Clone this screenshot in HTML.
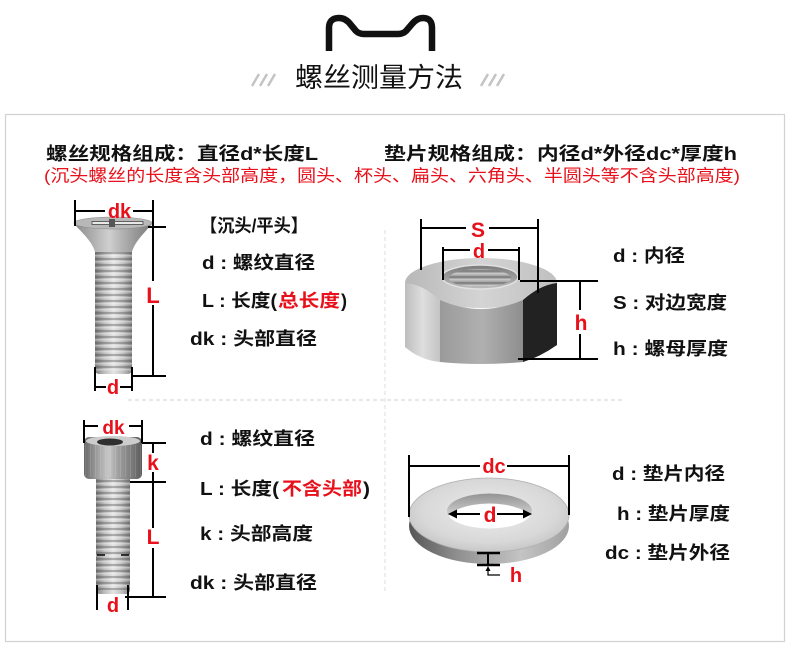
<!DOCTYPE html>
<html><head><meta charset="utf-8">
<style>
html,body{margin:0;padding:0;background:#fff;}
svg{display:block;}
text{font-family:"Liberation Sans","Noto Sans CJK SC",sans-serif;}
.b{font-weight:bold;fill:#111;}
.r{font-weight:bold;fill:#e8101a;}
</style></head><body>
<svg width="790" height="666" viewBox="0 0 790 666" xmlns="http://www.w3.org/2000/svg">
<defs>
 <linearGradient id="shank" x1="0" x2="1" y1="0" y2="0">
  <stop offset="0" stop-color="#7d7d7d"/>
  <stop offset="0.25" stop-color="#bdbdbd"/>
  <stop offset="0.5" stop-color="#e4e4e4"/>
  <stop offset="0.75" stop-color="#c2c2c2"/>
  <stop offset="1" stop-color="#858585"/>
 </linearGradient>
 <linearGradient id="cone" x1="0" x2="1" y1="0" y2="0">
  <stop offset="0" stop-color="#8a8a8a"/>
  <stop offset="0.45" stop-color="#cfcfcf"/>
  <stop offset="0.7" stop-color="#a5a5a5"/>
  <stop offset="1" stop-color="#7a7a7a"/>
 </linearGradient>
 <linearGradient id="head2" x1="0" x2="1" y1="0" y2="0">
  <stop offset="0" stop-color="#666"/>
  <stop offset="0.2" stop-color="#999"/>
  <stop offset="0.42" stop-color="#c6c6c6"/>
  <stop offset="0.6" stop-color="#9e9e9e"/>
  <stop offset="0.85" stop-color="#777"/>
  <stop offset="1" stop-color="#5a5a5a"/>
 </linearGradient>
 <pattern id="thr" patternUnits="userSpaceOnUse" width="60" height="6">
  <rect width="60" height="2" fill="#444" fill-opacity="0.35"/>
  <rect y="3" width="60" height="1.5" fill="#fff" fill-opacity="0.35"/>
 </pattern>
 <pattern id="knurl" patternUnits="userSpaceOnUse" width="5" height="60">
  <rect width="1" height="60" fill="#fff" fill-opacity="0.12"/>
 </pattern>
 <linearGradient id="nl" x1="0" x2="1" y1="0" y2="0">
  <stop offset="0" stop-color="#bdbdbd"/>
  <stop offset="0.5" stop-color="#dedede"/>
  <stop offset="1" stop-color="#c4c4c4"/>
 </linearGradient>
 <linearGradient id="nf" x1="0" x2="1" y1="0" y2="0">
  <stop offset="0" stop-color="#9a9a9a"/>
  <stop offset="0.5" stop-color="#b0b0b0"/>
  <stop offset="1" stop-color="#8e8e8e"/>
 </linearGradient>
 <linearGradient id="nt" x1="0" x2="1" y1="0" y2="0">
  <stop offset="0" stop-color="#b8b8b8"/>
  <stop offset="0.5" stop-color="#d4d4d4"/>
  <stop offset="1" stop-color="#c0c0c0"/>
 </linearGradient>
 <linearGradient id="hole" x1="0" x2="0" y1="0" y2="1">
  <stop offset="0" stop-color="#7a7a7a"/>
  <stop offset="1" stop-color="#bcbcbc"/>
 </linearGradient>
 <linearGradient id="wside" x1="0" x2="1" y1="0" y2="0">
  <stop offset="0" stop-color="#555"/>
  <stop offset="0.3" stop-color="#8f8f8f"/>
  <stop offset="0.7" stop-color="#c4c4c4"/>
  <stop offset="1" stop-color="#a0a0a0"/>
 </linearGradient>
 <radialGradient id="wtop" cx="0.5" cy="0.45" r="0.6">
  <stop offset="0" stop-color="#ececec"/>
  <stop offset="0.7" stop-color="#d8d8d8"/>
  <stop offset="1" stop-color="#c2c2c2"/>
 </radialGradient>
 <linearGradient id="wall" x1="0" x2="0" y1="0" y2="1">
  <stop offset="0" stop-color="#8a8a8a"/>
  <stop offset="0.5" stop-color="#cfcfcf"/>
  <stop offset="1" stop-color="#eee"/>
 </linearGradient>
 <clipPath id="hc"><ellipse cx="489.5" cy="511" rx="42.5" ry="17.5"/></clipPath>
 <clipPath id="nh"><ellipse cx="480" cy="278" rx="31" ry="9"/></clipPath>
</defs>

<!-- logo -->
<path d="M329,51 V28 Q329,18 339,18 Q346,18 351,25 L356,31 Q359,34 364,34 L398,34 Q403,34 406,31 L412,24 Q417,18 423,18 Q432,18 432,28 V51" fill="none" stroke="#111" stroke-width="6.5"/>
<g stroke="#c4c4c4" stroke-width="2.5">
 <line x1="252" y1="86" x2="259" y2="74"/><line x1="260" y1="86" x2="267" y2="74"/><line x1="268" y1="86" x2="275" y2="74"/>
 <line x1="481" y1="86" x2="488" y2="74"/><line x1="489" y1="86" x2="496" y2="74"/><line x1="497" y1="86" x2="504" y2="74"/>
</g>
<text x="295" y="87" font-size="27" fill="#111" textLength="168" lengthAdjust="spacingAndGlyphs">螺丝测量方法</text>

<!-- frame -->
<rect x="5.5" y="114.5" width="779" height="527" fill="none" stroke="#d2d2d2" stroke-width="1.2"/>
<line x1="385" y1="230" x2="385" y2="592" stroke="#e8e8e8" stroke-width="1.5" stroke-dasharray="4 3"/>
<line x1="128" y1="400" x2="625" y2="400" stroke="#e0e0e0" stroke-width="1.5" stroke-dasharray="4 3"/>

<!-- header -->
<text class="b" x="46" y="160" font-size="18" textLength="272" lengthAdjust="spacingAndGlyphs">螺丝规格组成：直径d*长度L</text>
<text class="b" x="384" y="160" font-size="18" textLength="353" lengthAdjust="spacingAndGlyphs">垫片规格组成：内径d*外径dc*厚度h</text>
<text x="44" y="181.5" font-size="17" fill="#e8101a" textLength="696" lengthAdjust="spacingAndGlyphs">(沉头螺丝的长度含头部高度，圆头、杯头、扁头、六角头、半圆头等不含头部高度)</text>

<!-- screw 1 (countersunk) -->
<rect x="95" y="248" width="37" height="126" rx="4" fill="url(#shank)"/>
<rect x="95" y="252" width="37" height="120" fill="url(#thr)"/>
<path d="M74,224 Q113,231 152,224 C141,236 134,244 132,252 L95,252 C93,244 86,236 74,224 Z" fill="url(#cone)"/>
<ellipse cx="113" cy="223" rx="39" ry="6" fill="#b8b8b8" stroke="#8a8a8a" stroke-width="0.6"/>
<rect x="92" y="221.5" width="51" height="3" fill="#e8e8e8" stroke="#444" stroke-width="0.8"/>
<rect x="109" y="219" width="6" height="8" fill="#555"/>

<g stroke="#000" stroke-width="2" fill="none">
 <path d="M75,200 V226 M153,200 V281 M153,305 V376 M75,211 H105 M133,211 H153 M148,227 H166 M132,376 H166 M95,367 V391 M132,367 V391 M95,387 H106 M120,387 H132"/>
</g>
<text class="r" x="119.5" y="218" font-size="20" text-anchor="middle">dk</text>
<text class="r" x="153" y="303" font-size="22" text-anchor="middle">L</text>
<text class="r" x="113" y="394" font-size="20" text-anchor="middle">d</text>

<text class="b" x="200" y="232" font-size="18" textLength="108" lengthAdjust="spacingAndGlyphs">【沉头/平头】</text>
<text class="b" x="202" y="269" font-size="18" textLength="113" lengthAdjust="spacingAndGlyphs">d : 螺纹直径</text>
<text class="b" x="202" y="307" font-size="18" textLength="75" lengthAdjust="spacingAndGlyphs">L : 长度(</text>
<text class="r" x="278" y="307" font-size="18" textLength="62" lengthAdjust="spacingAndGlyphs">总长度</text>
<text class="b" x="341" y="307" font-size="18" textLength="6" lengthAdjust="spacingAndGlyphs">)</text>
<text class="b" x="190" y="345" font-size="18" textLength="127" lengthAdjust="spacingAndGlyphs">dk : 头部直径</text>

<!-- nut -->
<ellipse cx="481" cy="283" rx="76" ry="25" fill="url(#nt)"/>
<path d="M405,283 Q422,284 440,300 L440,362 Q420,360 405,347 Z" fill="url(#nl)"/>
<path d="M440,300 Q481,318 523,300 L523,362 Q481,366 440,362 Z" fill="url(#nf)"/>
<path d="M523,300 Q540,285 557,283 L557,345 Q540,357 523,362 Z" fill="#222"/>
<ellipse cx="480" cy="277" rx="38" ry="12" fill="url(#hole)" stroke="#e0e0e0" stroke-width="1.5"/>
<ellipse cx="480" cy="278" rx="31" ry="9" fill="#a8a8a8"/>
<g clip-path="url(#nh)"><rect x="445" y="266" width="70" height="24" fill="url(#thr)"/></g>

<g stroke="#000" stroke-width="2" fill="none">
 <path d="M421,219 V270 M538,219 V293 M421,228 H466 M489,228 H538 M443,247 V280 M519,247 V280 M443,250 H470 M488,250 H519 M520,281 H598 M518,359 H598 M580,281 V310 M580,334 V359"/>
</g>
<text class="r" x="478" y="237" font-size="21" text-anchor="middle">S</text>
<text class="r" x="479" y="258" font-size="20" text-anchor="middle">d</text>
<text class="r" x="581" y="330" font-size="21" text-anchor="middle">h</text>

<text class="b" x="613" y="262" font-size="18" textLength="72" lengthAdjust="spacingAndGlyphs">d : 内径</text>
<text class="b" x="613" y="309" font-size="18" textLength="114" lengthAdjust="spacingAndGlyphs">S : 对边宽度</text>
<text class="b" x="613" y="355" font-size="18" textLength="115" lengthAdjust="spacingAndGlyphs">h : 螺母厚度</text>

<!-- screw 2 (socket head) -->
<rect x="96" y="474" width="34" height="120" rx="4" fill="url(#shank)"/>
<rect x="96" y="480" width="34" height="110" fill="url(#thr)"/>
<rect x="84" y="437" width="58" height="42" rx="5" fill="url(#head2)"/>
<rect x="84" y="445" width="58" height="32" fill="url(#knurl)"/>
<ellipse cx="113" cy="441" rx="27" ry="5" fill="#cdcdcd"/>
<ellipse cx="110" cy="442" rx="13" ry="3.5" fill="#2e2e2e"/>

<g stroke="#000" stroke-width="2" fill="none">
 <path d="M84,420 V443 M142,420 V443 M84,426 H98 M129,426 H142 M142,443 H166 M130,482 H166 M125,597 H166 M153,443 V453 M153,472 V528 M153,548 V597 M97,585 V610 M128,585 V610"/>
 <path d="M97,555 H105 M121,555 H129" stroke-width="1.5"/>
</g>
<text class="r" x="113.5" y="434" font-size="19" text-anchor="middle">dk</text>
<text class="r" x="153" y="470" font-size="21" text-anchor="middle">k</text>
<text class="r" x="153" y="544" font-size="21" text-anchor="middle">L</text>
<text class="r" x="113" y="612" font-size="20" text-anchor="middle">d</text>

<text class="b" x="200" y="445" font-size="18" textLength="115" lengthAdjust="spacingAndGlyphs">d : 螺纹直径</text>
<text class="b" x="200" y="495" font-size="18" textLength="79" lengthAdjust="spacingAndGlyphs">L : 长度(</text>
<text class="r" x="282" y="495" font-size="18" textLength="80" lengthAdjust="spacingAndGlyphs">不含头部</text>
<text class="b" x="363" y="495" font-size="18" textLength="7" lengthAdjust="spacingAndGlyphs">)</text>
<text class="b" x="200" y="540" font-size="18" textLength="113" lengthAdjust="spacingAndGlyphs">k : 头部高度</text>
<text class="b" x="190" y="589" font-size="18" textLength="127" lengthAdjust="spacingAndGlyphs">dk : 头部直径</text>

<!-- washer -->
<ellipse cx="489" cy="526" rx="80" ry="38" fill="url(#wside)"/>
<ellipse cx="489" cy="515" rx="80" ry="37" fill="url(#wtop)" stroke="#b0b0b0" stroke-width="0.8"/>
<g clip-path="url(#hc)">
 <rect x="440" y="490" width="100" height="50" fill="url(#wall)"/>
 <ellipse cx="489.5" cy="521" rx="42.5" ry="17.5" fill="#fff"/>
</g>

<g stroke="#000" stroke-width="2" fill="none">
 <path d="M409,455 V517 M569,455 V515 M409,466 H480 M507,466 H569 M454,514 H480 M497,514 H526 M488,553 V565"/>
 <path d="M477,553 H500 M477,565 H500" stroke-width="2.5"/>
 <path d="M488,570 V575 H500" stroke-width="1.2"/>
</g>
<polygon points="448,514 457,509.5 457,518.5" fill="#000"/>
<polygon points="532,514 523,509.5 523,518.5" fill="#000"/>
<polygon points="488,566 485.5,571 490.5,571" fill="#000"/>
<text class="r" x="494" y="473" font-size="20" text-anchor="middle">dc</text>
<text class="r" x="490" y="522" font-size="21" text-anchor="middle">d</text>
<text class="r" x="516" y="582" font-size="20" text-anchor="middle">h</text>

<text class="b" x="612" y="480" font-size="18" textLength="113" lengthAdjust="spacingAndGlyphs">d : 垫片内径</text>
<text class="b" x="617" y="520" font-size="18" textLength="113" lengthAdjust="spacingAndGlyphs">h : 垫片厚度</text>
<text class="b" x="605" y="559" font-size="18" textLength="125" lengthAdjust="spacingAndGlyphs">dc : 垫片外径</text>
</svg>
</body></html>
